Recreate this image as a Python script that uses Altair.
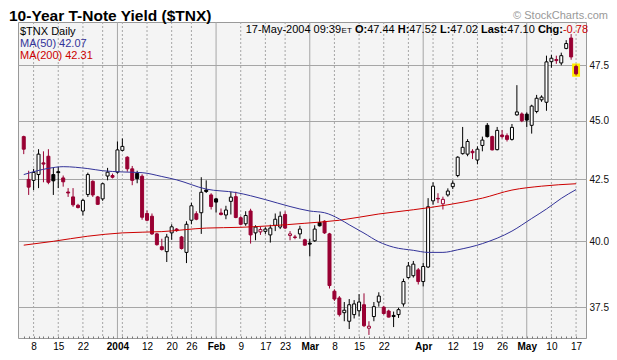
import altair as alt
import numpy as np
import pandas as pd

FONT = "Liberation Sans"

# ---------------- data ----------------
# trading-day index: 0 = Mon 8 Dec 2003 ... 110 = Mon 17 May 2004
day_index = list(range(-2, 111))

opens = [44.30, 42.49, 42.45, 42.69, 43.18, 43.46, 42.69, 42.81, 42.55, 41.97,
         41.77, 41.43, 41.20, 41.87, 42.41, 41.77, 41.69, 42.63, 42.65, 42.79,
         43.71, 43.42, 42.93, 42.74, 42.62, 41.10, 40.99, 40.29, 39.79, 39.60,
         40.33, 40.48, 40.17, 39.57, 40.83, 41.09, 41.13, 42.05, 41.85, 41.69,
         41.12, 41.04, 41.59, 41.78, 40.93, 40.69, 41.20, 40.33, 40.37, 40.39,
         40.25, 40.63, 40.56, 41.06, 40.23, 40.17, 40.29, 40.06, 39.93, 40.02,
         40.74, 40.79, 40.29, 38.10, 37.85, 37.31, 37.00, 37.24, 37.38, 37.60,
         36.75, 37.17, 37.70, 37.51, 37.37, 37.21, 37.24, 37.63, 38.61, 38.68,
         38.90, 38.46, 39.01, 41.61, 41.71, 41.49, 41.85, 42.19, 42.65, 43.57,
         43.55, 43.67, 43.30, 43.92, 44.79, 44.30, 43.74, 44.37, 44.34, 44.18,
         45.25, 45.29, 45.28, 44.79, 45.40, 45.92, 45.81, 47.66, 47.76, 47.60,
         48.28, 48.77, 47.44]
highs = [44.34, 42.85, 42.93, 43.76, 43.67, 43.76, 42.97, 43.01, 42.65, 42.13,
         42.13, 41.49, 41.69, 42.77, 42.45, 41.81, 42.35, 42.97, 42.73, 44.09,
         44.22, 43.46, 43.05, 42.85, 42.70, 41.22, 41.10, 40.33, 40.10, 40.29,
         40.67, 40.52, 40.21, 40.79, 41.53, 41.19, 42.58, 42.45, 41.92, 41.73,
         41.30, 41.41, 41.98, 41.98, 40.99, 41.19, 41.29, 40.63, 40.56, 40.55,
         40.65, 41.10, 41.18, 41.18, 40.40, 40.25, 40.61, 40.10, 40.10, 40.63,
         41.06, 40.83, 40.33, 38.17, 37.92, 37.70, 37.81, 37.77, 37.99, 38.02,
         37.00, 37.70, 38.06, 37.56, 37.42, 37.35, 37.49, 38.57, 39.20, 39.24,
         38.97, 39.16, 41.72, 42.37, 41.92, 41.78, 42.12, 42.45, 43.46, 44.72,
         44.19, 43.76, 43.88, 44.30, 44.89, 44.34, 44.72, 44.59, 44.44, 44.85,
         46.58, 45.36, 45.36, 45.70, 46.14, 46.12, 47.94, 47.97, 47.94, 48.08,
         48.67, 48.96, 47.52]
lows = [43.55, 41.85, 42.05, 42.13, 42.37, 42.29, 41.85, 42.13, 42.19, 41.77,
        41.37, 41.30, 41.02, 41.77, 41.77, 41.45, 41.61, 42.45, 42.53, 42.73,
        43.67, 42.81, 42.25, 42.33, 40.85, 40.79, 40.25, 39.83, 39.64, 39.20,
        40.06, 40.37, 39.68, 39.16, 40.67, 40.83, 40.29, 41.93, 41.26, 41.14,
        41.02, 40.87, 41.06, 40.91, 40.63, 40.61, 39.91, 40.04, 40.25, 40.29,
        39.95, 40.40, 40.48, 40.48, 40.04, 40.08, 40.10, 39.83, 39.42, 39.98,
        40.58, 40.29, 38.20, 37.74, 37.17, 37.00, 36.72, 37.10, 37.17, 36.79,
        36.51, 37.00, 37.53, 37.24, 37.14, 36.79, 37.12, 37.53, 38.57, 38.61,
        38.35, 38.28, 38.97, 41.45, 41.52, 41.26, 41.78, 42.09, 42.58, 43.53,
        43.46, 43.34, 43.12, 43.67, 44.26, 43.71, 43.71, 44.22, 44.09, 44.13,
        45.21, 44.93, 44.72, 44.43, 45.32, 45.83, 45.43, 47.38, 47.56, 47.49,
        48.24, 47.75, 47.02]
closes = [43.76, 42.17, 42.78, 43.55, 43.13, 42.37, 42.43, 42.77, 42.39, 41.93,
          41.45, 41.34, 41.63, 42.69, 41.85, 41.47, 42.31, 42.79, 42.58, 43.73,
          43.88, 42.93, 42.45, 42.52, 40.95, 40.83, 40.29, 39.87, 39.68, 40.17,
          40.57, 40.42, 39.72, 40.67, 41.41, 40.87, 41.96, 41.99, 41.38, 41.56,
          41.06, 41.24, 41.76, 40.94, 40.67, 41.02, 40.25, 40.56, 40.46, 40.48,
          40.52, 40.87, 40.99, 40.52, 40.29, 40.15, 40.48, 39.85, 39.89, 40.48,
          40.61, 40.33, 38.31, 37.81, 37.24, 37.40, 37.60, 37.63, 37.70, 36.84,
          36.82, 37.53, 37.92, 37.28, 37.15, 37.17, 37.42, 38.46, 39.05, 39.12,
          38.46, 39.03, 41.37, 42.21, 41.69, 41.67, 42.01, 42.33, 43.42, 43.84,
          44.09, 43.61, 43.76, 44.15, 44.30, 43.73, 44.57, 44.30, 44.18, 44.70,
          45.38, 44.99, 45.02, 45.64, 45.99, 46.04, 47.65, 47.82, 47.71, 47.94,
          48.51, 47.88, 47.10]

ma50_day = [-2, 3, 6, 11, 14, 18, 22, 26, 29, 35, 41, 47, 52, 56, 59, 62, 64, 67,
            70, 73, 77, 80, 83, 86, 91, 97, 101, 104, 107, 110]
ma50_val = [42.69, 42.95, 43.02, 42.94, 42.85, 42.80, 42.77, 42.61, 42.47, 42.09,
            41.95, 41.66, 41.38, 41.20, 41.13, 40.88, 40.65, 40.32, 39.98, 39.77,
            39.65, 39.57, 39.57, 39.67, 39.91, 40.40, 40.90, 41.28, 41.71, 42.07]
ma200_day = [-2, 4, 11, 18, 26, 35, 42, 48, 55, 62, 70, 77, 84, 91, 97, 103, 110]
ma200_val = [39.85, 40.00, 40.20, 40.33, 40.38, 40.52, 40.55, 40.61, 40.71, 40.83,
             41.08, 41.25, 41.45, 41.72, 42.05, 42.21, 42.31]

tick_day = [0, 5, 10, 17, 23, 28, 32, 37, 42, 47, 51, 56, 61, 66, 71, 79, 85, 90,
            95, 100, 105, 110]
tick_text = ["8", "15", "22", "2004", "12", "20", "26", "Feb", "9", "17", "23",
             "Mar", "8", "15", "22", "Apr", "12", "19", "26", "May", "10", "17"]
week_day = [0, 5, 10, 14, 18, 23, 28, 32, 42, 47, 51, 61, 66, 71, 76, 81, 85, 90,
            95, 105, 110]
month_day = [17, 37, 56, 79, 100]
y_ticks = [37.5, 40.0, 42.5, 45.0, 47.5]

title_text = "10-Year T-Note Yield ($TNX)"
copyright_text = "\u00a9 StockCharts.com"
stamp_text = "17-May-2004 09:39"
symbol_text = "$TNX Daily"

# ---------------- styling ----------------
PW, PH = 568, 316
MAROON = "#990033"
BLACK = "#000000"
WHITE = "#ffffff"
GRID = "#a6a6a6"
MA50_C = "#333399"
MA200_C = "#cc0000"

df = pd.DataFrame({"day": day_index, "open": opens, "high": highs,
                   "low": lows, "close": closes})
prev = df["close"].shift(1)
is_red = (df["close"] < prev) | prev.isna()
is_filled = df["close"] < df["open"]
df["edge"] = np.where(is_red, MAROON, BLACK)
df["body"] = np.where(is_filled, df["edge"], WHITE)

xs = alt.Scale(domain=[-2.15, 111.0], nice=False, zero=False)
ys = alt.Scale(type="log", domain=[36.40, 49.54], nice=False, zero=False)

tick_js = "[" + ",".join(str(d) for d in tick_day) + "]"
text_js = "[" + ",".join("'" + t + "'" for t in tick_text) + "]"
month_js = "[" + ",".join(str(d) for d in month_day) + "]"
label_expr = (f"indexof({tick_js}, datum.value) >= 0 ? "
              f"{text_js}[indexof({tick_js}, datum.value)] : ''")

x_axis = alt.Axis(values=day_index, labelExpr=label_expr, labelOverlap=False,
                  labelFlush=False, labelBound=False, tickSize=2, offset=-2,
                  tickColor="#777777", domain=False, grid=False, labelFont=FONT,
                  labelFontSize=10, labelColor="#000000", labelPadding=3,
                  labelAngle=0,
                  labelFontWeight={"condition": {"test": f"indexof({month_js}, datum.value) >= 0",
                                                 "value": "bold"},
                                   "value": "normal"},
                  title=None)
y_axis = alt.Axis(orient="right", values=y_ticks, format=".1f", grid=True,
                  gridColor=GRID, gridWidth=1, ticks=False, domain=False,
                  labelPadding=3, labelFont=FONT, labelFontSize=10,
                  labelColor="#111111", title=None)


def xq(field="day"):
    return alt.X(f"{field}:Q", scale=xs, axis=x_axis)


def yq(field):
    return alt.Y(f"{field}:Q", scale=ys, axis=y_axis)


weeks = alt.Chart(pd.DataFrame({"day": week_day})).mark_rule(
    color=GRID, strokeWidth=1, strokeDash=[2, 2]).encode(x=xq())
months = alt.Chart(pd.DataFrame({"day": month_day})).mark_rule(
    color=GRID, strokeWidth=1).encode(x=xq())

highlight = alt.Chart(df.tail(1)).transform_calculate(
    xa="datum.day - 0.55", xb="datum.day + 0.55"
).mark_rect(fill="#ffff00", stroke="#ffee00", strokeWidth=2.5).encode(
    x=xq("xa"), x2="xb:Q", y=yq("low"), y2="high:Q")

wicks = alt.Chart(df).mark_rule(strokeWidth=1).encode(
    x=xq(), y=yq("low"), y2="high:Q",
    color=alt.Color("edge:N", scale=None))

bodies = alt.Chart(df).mark_bar(size=3, strokeWidth=1).encode(
    x=xq(), y=yq("open"), y2="close:Q",
    fill=alt.Fill("body:N", scale=None),
    stroke=alt.Stroke("edge:N", scale=None))

ma200 = alt.Chart(pd.DataFrame({"day": ma200_day, "ma": ma200_val})).mark_line(
    color=MA200_C, strokeWidth=1, interpolate="monotone").encode(x=xq(), y=yq("ma"))
ma50 = alt.Chart(pd.DataFrame({"day": ma50_day, "ma": ma50_val})).mark_line(
    color=MA50_C, strokeWidth=1, interpolate="monotone").encode(x=xq(), y=yq("ma"))

anno = pd.DataFrame({"k": [0]})


def label(text, x, y, size=11, weight="normal", color=BLACK, align="left"):
    return alt.Chart(anno).mark_text(
        font=FONT, fontSize=size, fontWeight=weight, color=color,
        align=align, baseline="alphabetic"
    ).encode(x=alt.value(x), y=alt.value(y), text=alt.value(text))


# approximate Arial / Liberation Sans advance widths (1/1000 em)
REG = {**{d: 556 for d in "0123456789"}, "-": 333, ".": 278, ":": 278, " ": 278,
       "M": 833, "a": 556, "y": 500, "E": 667, "T": 611}
BOLD = {" ": 278, "O": 778, ":": 333, "H": 722, "L": 611, "a": 556, "s": 556,
        "t": 333, "C": 722, "h": 611, "g": 611}


def tw(s, size, bold):
    table = BOLD if bold else REG
    return sum(table.get(ch, 556) for ch in s) * size / 1000.0


SP = 3.1
chg = closes[-1] - closes[-2]
segs = [
    (stamp_text, False, 11, BLACK, 0),
    ("ET", False, 8, BLACK, 0.5),
    ("O:", True, 11, BLACK, SP),
    (f"{opens[-1]:.2f}", False, 11, BLACK, 0),
    ("H:", True, 11, BLACK, SP),
    (f"{highs[-1]:.2f}", False, 11, BLACK, 0),
    ("L:", True, 11, BLACK, SP),
    (f"{lows[-1]:.2f}", False, 11, BLACK, 0),
    ("Last:", True, 11, BLACK, SP),
    (f"{closes[-1]:.2f}", False, 11, BLACK, 0),
    ("Chg:", True, 11, BLACK, SP),
    (f"{chg:.2f}", False, 11, MA200_C, 0),
]
header_layers = []
right = PW + 2
for text, bold, size, color, gap in reversed(segs):
    left = right - tw(text, size, bold)
    header_layers.append(label(text, left, 11, size=size,
                               weight="bold" if bold else "normal", color=color))
    right = left - gap

texts = [
    label(title_text, -9, -1, size=15.5, weight="bold"),
    label(copyright_text, PW + 22, -3, size=11, color="#999999", align="right"),
    label(symbol_text, 2, 12.5),
    label(f"MA(50) {ma50_val[-1]:.2f}", 2, 24.5, color=MA50_C),
    label(f"MA(200) {ma200_val[-1]:.2f}", 2, 36.5, color=MA200_C),
] + header_layers

chart = alt.layer(
    weeks, months, highlight, wicks, bodies, ma200, ma50, *texts
).properties(
    width=PW, height=PH,
    padding={"left": 10, "top": 14, "right": 23, "bottom": 14},
    autosize=alt.AutoSizeParams(type="none"),
).configure(
    background="#ffffff"
).configure_view(
    fill="#f4f4f4", stroke="#999999", strokeWidth=1
)

chart.save("out.html", embed_options={"renderer": "svg", "actions": False})
